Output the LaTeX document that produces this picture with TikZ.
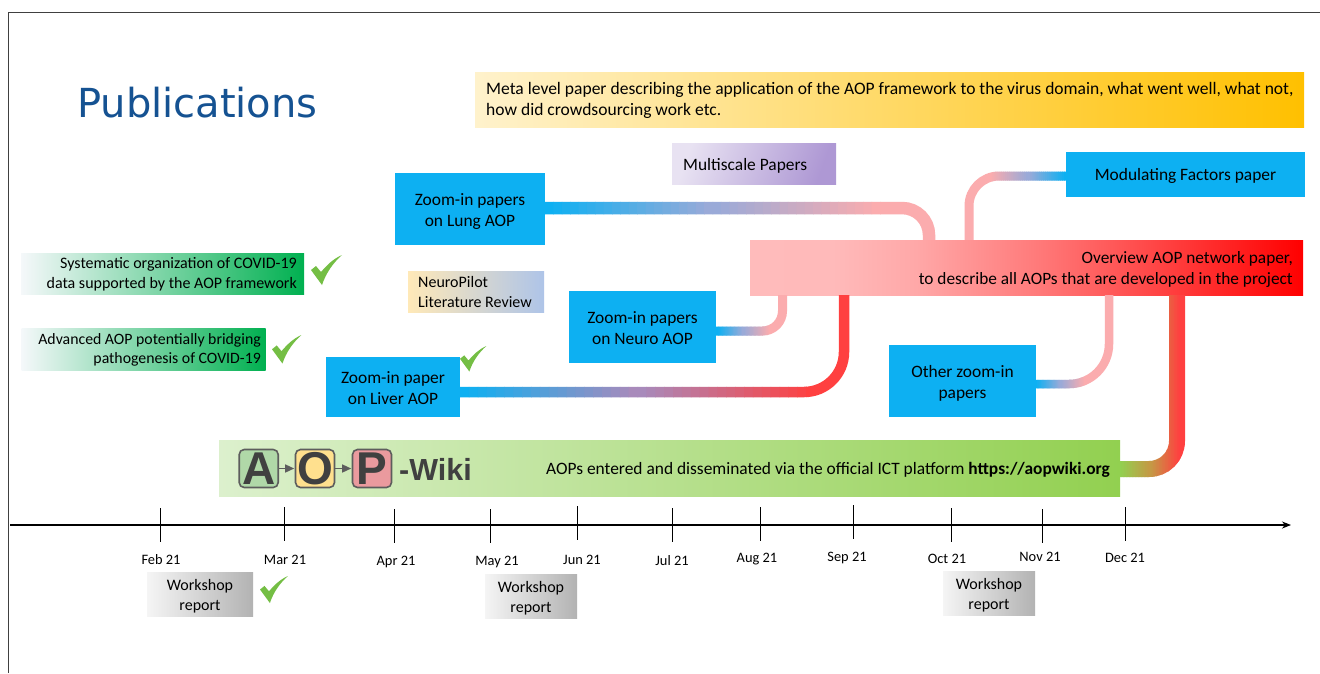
\documentclass[tikz,border=0pt]{standalone}
\usepackage{fontspec}
\setmainfont{Carlito}
\newfontfamily\titlefont{DejaVu Sans}
\newfontfamily\logofont{Liberation Sans}
\usetikzlibrary{arrows.meta}
\definecolor{cblue}{HTML}{0DB0F2}
\definecolor{cpink}{HTML}{FBACAE}
\definecolor{cred}{HTML}{FF4040}
\definecolor{cgreen}{HTML}{92D050}
\definecolor{ccheck}{HTML}{74BE44}
\definecolor{cgrey}{HTML}{404040}
\definecolor{cmid}{HTML}{9AAAD8}
\definecolor{cmidred}{HTML}{A88ABB}
\definecolor{cmidwiki}{HTML}{C49A45}
\definecolor{ctitle}{HTML}{155292}
\pgfdeclarehorizontalshading{overshade}{100bp}{%
  rgb(0bp)=(1,.733,.733);
  rgb(25bp)=(1,.733,.733);
  rgb(32.5bp)=(1,.729,.729);
  rgb(40bp)=(1,.659,.659);
  rgb(51bp)=(1,.478,.478);
  rgb(63.5bp)=(1,.235,.235);
  rgb(75bp)=(1,0,0);
  rgb(100bp)=(1,0,0)}
\newcommand{\dn}[1]{\rule{0pt}{\dimexpr12.7pt+2\dimexpr#1pt\relax\relax}}
\newcommand{\gradconn}[8]{%
  \begin{scope}\clip (-10,-10) rectangle (#4,700);
    \draw[line width=#2pt,rounded corners=#3pt,color=#6] #1;\end{scope}
  \begin{scope}\clip (#5,-10) rectangle (1400,700);
    \draw[line width=#2pt,rounded corners=#3pt,color=#7] #1;\end{scope}
  \foreach \k in {0,...,39}{%
    \pgfmathsetmacro\xa{#4+(#5-#4)*\k/40}%
    \pgfmathsetmacro\xb{#4+(#5-#4)*(\k+1)/40+0.5}%
    \ifnum\k<20
      \pgfmathtruncatemacro\pc{\k/19*100}%
      \colorlet{segc}{#8!\pc!#6}%
    \else
      \pgfmathtruncatemacro\pc{(\k-20)/19*100}%
      \colorlet{segc}{#7!\pc!#8}%
    \fi
    \begin{scope}\clip (\xa,-10) rectangle (\xb,700);
      \draw[line width=#2pt,rounded corners=#3pt,color=segc] #1;\end{scope}}%
}
\tikzset{
  x=1pt,y=-1pt,
  txt/.style={font=\fontsize{17.4}{21}\selectfont,text=black,inner sep=0pt},
  smalltxt/.style={txt,font=\fontsize{16}{19.7}\selectfont},
  bluebox/.style={txt,fill=cblue,align=center},
  gradbox/.style={txt,inner sep=0pt},
  tick/.style={line width=0.9pt,black},
  month/.style={font=\fontsize{14.4}{17}\selectfont,inner sep=0pt,text=black},
  work/.style={smalltxt,align=center,left color=gray!8,right color=gray!60,minimum width=#1,minimum height=44pt},
  logobox/.style={draw=cgrey!85,line width=1.6pt,rounded corners=5pt,minimum width=39pt,minimum height=38pt,inner sep=0pt,text=cgrey,font=\logofont\bfseries\fontsize{46}{46}\selectfont},
  logoarrow/.style={cgrey!85,line width=1.4pt,-{Triangle[length=9pt,width=8pt]},shorten >=0.5pt},
  check/.pic={\fill[ccheck] (0,15) -- (5,11) -- (10,17) .. controls (16,10) and (22,4) .. (31,0) .. controls (22,8) and (15,18) .. (11,30) -- cycle;}
}
\begin{document}
\begin{tikzpicture}
\useasboundingbox (0,0) rectangle (1320,673);
\fill[white] (0,0) rectangle (1320,673);
\draw[line width=1pt,cgrey] (8,673) -- (8,12) -- (1320,12);
\node[font=\titlefont\fontsize{40}{48}\selectfont,anchor=west,inner sep=0pt,text=ctitle] (title) at (77,103) {Publications};

% boxes
\node[gradbox,left color={rgb,255:red,255;green,242;blue,204},middle color={rgb,255:red,255;green,221;blue,144},right color={rgb,255:red,255;green,192;blue,0},minimum width=829pt,minimum height=55pt] (meta) at (889.5,99.5) {};
\node[txt,anchor=west,align=left,font=\fontsize{17.53}{21}\selectfont] (metatext) at (486,100.5) {Meta level paper describing the application of the AOP framework to the virus domain, what went well, what not,\\how did crowdsourcing work etc.};
\node[gradbox,left color={rgb,255:red,232;green,226;blue,242},right color={rgb,255:red,174;green,152;blue,212},shading angle=70,minimum width=164pt,minimum height=41pt] (multi) at (754,163.5) {};
\node[txt,anchor=west] (multitext) at (683,165.5) {Multiscale Papers};
\node[bluebox,minimum width=150pt,minimum height=72pt] (lung) at (470,209) {\dn{2}Zoom-in papers\\on Lung AOP};
\node[bluebox,minimum width=239pt,minimum height=45pt] (mod) at (1185.5,174.5) {\dn{1}Modulating Factors paper};
\node[gradbox,shading=overshade,minimum width=553pt,minimum height=55pt] (over) at (1026.5,267.5) {};
\node[txt,anchor=east,align=right,font=\fontsize{17.3}{21}\selectfont] (overtext) at (1293,269) {Overview AOP network paper,\\to describe all AOPs that are developed in the project};
\node[gradbox,left color={rgb,255:red,255;green,233;blue,184},right color={rgb,255:red,174;green,196;blue,232},minimum width=136pt,minimum height=41pt] (pilot) at (476,291.5) {};
\node[smalltxt,anchor=west,align=left] (pilottext) at (418,292) {NeuroPilot\\Literature Review};
\node[bluebox,minimum width=147pt,minimum height=72pt] (neuro) at (642.5,327) {\dn{1}Zoom-in papers\\on Neuro AOP};
\node[bluebox,minimum width=134pt,minimum height=60pt] (liver) at (393,387) {\dn{1}Zoom-in paper\\on Liver AOP};
\node[bluebox,minimum width=147pt,minimum height=72pt] (other) at (962.5,381) {\dn{2.5}Other zoom-in\\papers};
\node[gradbox,left color={rgb,255:red,245;green,248;blue,250},middle color={rgb,255:red,168;green,219;blue,184},right color={rgb,255:red,0;green,176;blue,80},minimum width=283pt,minimum height=41pt] (sys) at (162.5,273.5) {};
\node[smalltxt,anchor=east,align=right] (systext) at (297,274.5) {Systematic organization of COVID-19\\data supported by the AOP framework};
\node[gradbox,left color={rgb,255:red,245;green,248;blue,250},middle color={rgb,255:red,168;green,219;blue,184},right color={rgb,255:red,0;green,176;blue,80},minimum width=244pt,minimum height=42pt] (adv) at (143.5,349) {};
\node[smalltxt,anchor=east,align=right,font=\fontsize{15.8}{19.5}\selectfont] (advtext) at (261,350) {Advanced AOP potentially bridging\\pathogenesis of COVID-19};
\node[gradbox,left color={rgb,255:red,220;green,240;blue,205},middle color={rgb,255:red,190;green,227;blue,160},right color=cgreen,minimum width=901pt,minimum height=56pt] (wiki) at (669.5,468) {};
\node[txt,anchor=east] (wikitext) at (1110,470) {AOPs entered and disseminated via the official ICT platform \textbf{https://aopwiki.org}};

% logo
\node[logobox,fill={rgb,255:red,176;green,216;blue,168}] (la) at (258.7,468.5) {A};
\node[logobox,fill={rgb,255:red,255;green,224;blue,142}] (lo) at (315,468.5) {O};
\node[logobox,fill={rgb,255:red,234;green,154;blue,158}] (lp) at (372,468.5) {P};
\draw[logoarrow] (la) -- (lo);
\draw[logoarrow] (lo) -- (lp);
\node[anchor=west,inner sep=0pt,text=cgrey,font=\logofont\bfseries\fontsize{30.5}{30}\selectfont] (lwiki) at (399,469) {-Wiki};

% connectors
\gradconn{([yshift=1pt]lung.east) -| ([xshift=-97.5pt]over.north)}{12.5}{27}{545}{880}{cblue}{cpink}{cmid}
\gradconn{([xshift=-57.5pt]over.north) |- ([yshift=-1.5pt]mod.west)}{9}{30}{990}{1066}{cpink}{cblue}{cmid}
\gradconn{([yshift=-4pt]neuro.east) -| ([xshift=-244pt]over.south)}{9}{20}{717}{770}{cblue}{cpink}{cmid}
\gradconn{([yshift=-5pt]liver.east) -| ([xshift=-182.5pt]over.south)}{10.5}{40}{460}{815}{cblue}{cred}{cmidred}
\gradconn{([yshift=-3pt]other.east) -| ([xshift=82.5pt]over.south)}{8.5}{40}{1036}{1085}{cblue}{cpink}{cmid}
\gradconn{([yshift=-1pt]wiki.east) -| ([xshift=150.5pt]over.south)}{16}{28}{1120}{1180}{cgreen}{cred}{cmidwiki}

% checks
\path (311,255) pic {check};
\path (272,335) pic[scale=0.95] {check};
\path (460,346) pic[scale=0.85] {check};
\path (260,576) pic[scale=0.9] {check};

% timeline
\coordinate (axstart) at (10,525);
\coordinate (axend) at (1291,525);
\draw[line width=1.3pt,black,-{Stealth[length=9pt,width=7pt]}] (axstart) -- (axend);
\foreach \x/\a/\b in {160/508/542,284/507/541,394/509/543,490/509/543,577/506/540,672/508/542,760/507/541,853.5/505/539,951.5/508/542,1042/509/543,1125/507/541}
  \draw[tick] (\x,\a) -- (\x,\b);
\foreach \x/\y/\t in {161/559.5/Feb 21,285/559.5/Mar 21,396/561.5/Apr 21,497/561.5/May 21,582/559.5/Jun 21,672/560.5/Jul 21,757/559.5/Aug 21,847/557.5/Sep 21,947/558.5/Oct 21,1040/556.5/Nov 21,1125/557.5/Dec 21}
  \node[month] (m\x) at (\x,\y) {\t};
\node[work=106pt] (w1) at (200,594) {\dn{1.5}Workshop\\report};
\node[work=92pt] (w2) at (531,596) {\dn{1.5}Workshop\\report};
\node[work=92pt] (w3) at (989,593) {\dn{1.5}Workshop\\report};
\end{tikzpicture}
\end{document}
